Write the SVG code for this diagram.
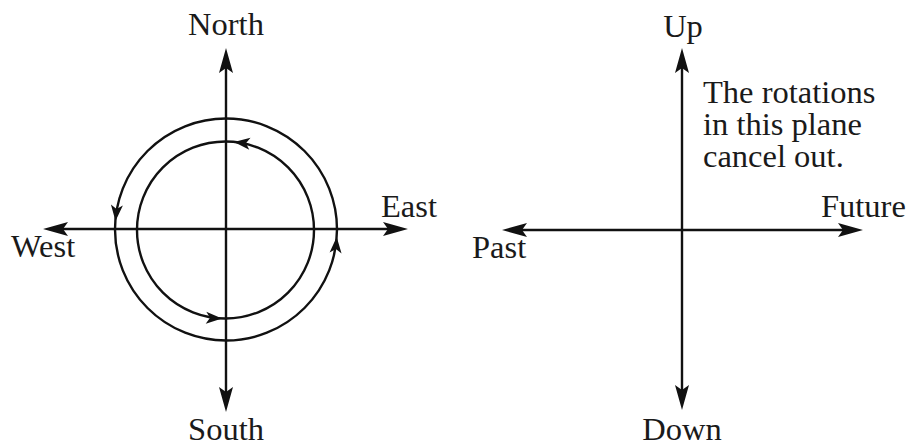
<svg xmlns="http://www.w3.org/2000/svg" xmlns:xlink="http://www.w3.org/1999/xlink" width="912" height="447" viewBox="0 0 912 447">
<style>
.ln{stroke:#111;stroke-width:2.4;fill:none}
.t{font-family:"Liberation Serif","Times New Roman",serif;font-size:32.5px;fill:#1a1a1a}
.ah{fill:#111}
</style>
<defs>
<path id="big" d="M0,0 L-25,-7 L-20,0 L-25,7 Z"/>
<path id="small" d="M0,0 L-16,-6 L-12,0 L-16,6 Z"/>
</defs>
<rect width="912" height="447" fill="#fff"/>
<g id="connectors">
<line class="ln" x1="226" y1="58" x2="226" y2="402"/>
<line class="ln" x1="53" y1="229" x2="398" y2="229"/>
<use href="#big" class="ah" transform="translate(226,48) rotate(-90)"/>
<use href="#big" class="ah" transform="translate(226,412) rotate(90)"/>
<use href="#big" class="ah" transform="translate(43,229) rotate(180)"/>
<use href="#big" class="ah" transform="translate(408,229)"/>
<circle class="ln" cx="226" cy="229.5" r="111"/>
<circle class="ln" cx="225.5" cy="230" r="88.5"/>
<use href="#small" class="ah" transform="translate(115.5,221) rotate(95)"/>
<use href="#small" class="ah" transform="translate(336.7,237) rotate(-86)"/>
<use href="#small" class="ah" transform="translate(234,142) rotate(186)"/>
<use href="#small" class="ah" transform="translate(222,318.4) rotate(2.6)"/>
<line class="ln" x1="682" y1="58" x2="682" y2="400"/>
<line class="ln" x1="512" y1="230" x2="853" y2="230"/>
<use href="#big" class="ah" transform="translate(682,48) rotate(-90)"/>
<use href="#big" class="ah" transform="translate(682,410) rotate(90)"/>
<use href="#big" class="ah" transform="translate(502,230) rotate(180)"/>
<use href="#big" class="ah" transform="translate(863,230)"/>
</g>
<g id="north"><text class="t" x="226" y="35" text-anchor="middle">North</text></g>
<g id="south"><text class="t" x="226" y="440" text-anchor="middle">South</text></g>
<g id="east"><text class="t" x="381" y="217">East</text></g>
<g id="west"><text class="t" x="11" y="257">West</text></g>
<g id="up"><text class="t" x="683" y="37" text-anchor="middle">Up</text></g>
<g id="down"><text class="t" x="682" y="440" text-anchor="middle">Down</text></g>
<g id="future"><text class="t" x="821" y="217">Future</text></g>
<g id="past"><text class="t" x="472" y="258">Past</text></g>
<g id="note">
<text class="t" x="703" y="103">The rotations</text>
<text class="t" x="703" y="135">in this plane</text>
<text class="t" x="703" y="167">cancel out.</text>
</g>
</svg>
